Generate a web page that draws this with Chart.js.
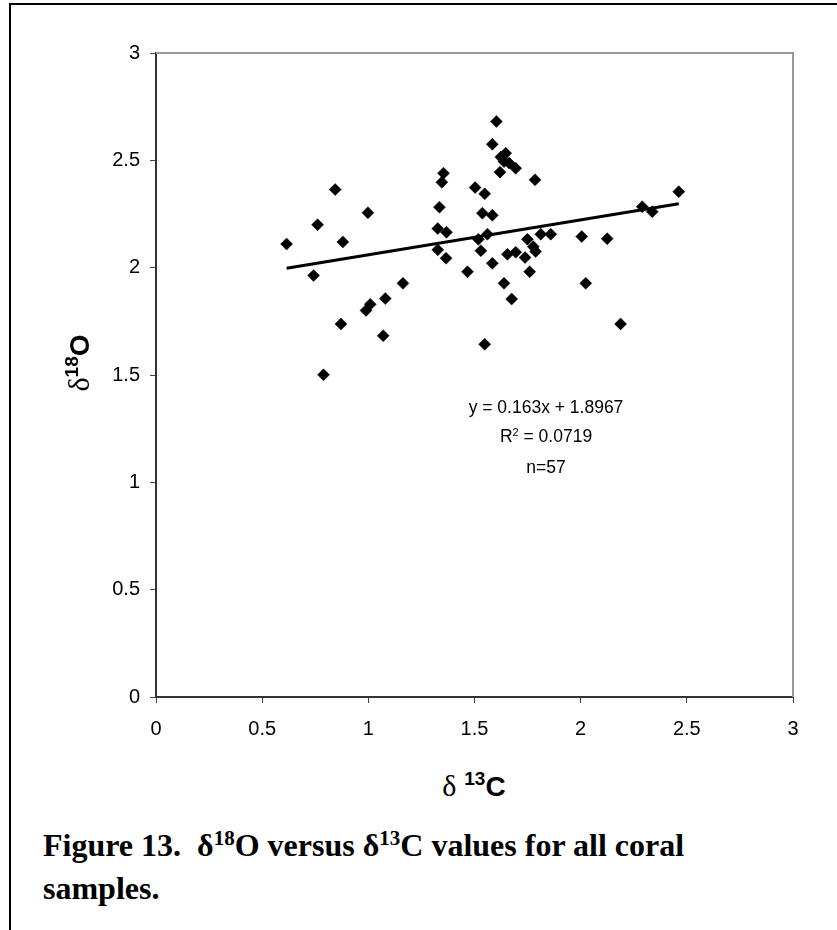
<!DOCTYPE html>
<html>
<head>
<meta charset="utf-8">
<script src="https://cdn.jsdelivr.net/npm/chart.js@4.4.1/dist/chart.umd.min.js"></script>
<style>
  html, body { margin: 0; padding: 0; background: #fff; }
  body { width: 837px; height: 930px; position: relative; overflow: hidden; font-family: "Liberation Sans", Arial, sans-serif; color: #000; }
  #frameTop { position: absolute; left: 9px; top: 3px; width: 828px; height: 2px; background: #000; }
  #frameLeft { position: absolute; left: 9px; top: 3px; width: 2px; height: 927px; background: #000; }
  #wrap { position: absolute; left: 0; top: 0; width: 837px; height: 760px; }
  .axtitle { position: absolute; font-weight: bold; font-size: 28px; line-height: 40px; white-space: nowrap; text-align: center; }
  .axtitle .delta { font-family: "Liberation Serif", serif; font-weight: normal; font-size: 30px; }
  .axtitle sup { font-size: 19px; vertical-align: baseline; position: relative; top: -11px; }
  #xTitle { left: 274px; top: 766px; width: 400px; }
  #yTitle { left: 31px; top: 341px; width: 100px; transform: rotate(-90deg); }
  #eq { position: absolute; left: 396px; top: 393px; width: 300px; text-align: center; font-size: 17.5px; line-height: 29px; }
  #eq sup { font-size: 11px; vertical-align: baseline; position: relative; top: -6px; }
  #caption { position: absolute; left: 43px; top: 826px; font-family: "Liberation Serif", "Times New Roman", serif; font-weight: bold; font-size: 32px; line-height: 39px; white-space: nowrap; }
  #caption sup { font-size: 21px; vertical-align: baseline; position: relative; top: -11px; }
</style>
</head>
<body>
<div id="frameTop"></div>
<div id="frameLeft"></div>
<div id="wrap"><canvas id="chartIsotopos" width="837" height="760"></canvas></div>
<div class="axtitle" id="yTitle"><span class="delta">δ</span><sup>18</sup>O</div>
<div class="axtitle" id="xTitle"><span class="delta">δ</span> <sup>13</sup>C</div>
<div id="eq">y = 0.163x + 1.8967<br>R<sup>2</sup> = 0.0719<br>n=57</div>
<div id="caption">Figure 13.&nbsp; δ<sup>18</sup>O versus δ<sup>13</sup>C values for all coral<br>samples.</div>
<script>
// valores
const d13C = [0.615, 0.844, 0.761, 0.998, 0.880, 0.742, 1.163, 1.080, 1.009, 0.989, 0.871, 1.070, 0.789,
    1.354, 1.346, 1.335, 1.327, 1.368, 1.327, 1.366,
    1.603, 1.584, 1.647, 1.624, 1.639, 1.663, 1.694, 1.620, 1.785, 1.503,
    1.548, 1.537, 1.584, 1.561, 1.518, 1.530, 1.467, 1.584, 1.639, 1.675,
    1.548, 1.655, 1.694, 1.749, 1.777, 1.788, 1.738, 1.760, 1.812, 1.859,
    2.005, 2.024, 2.125, 2.188, 2.290, 2.337, 2.462];
const d18O = [2.110, 2.364, 2.200, 2.256, 2.120, 1.963, 1.927, 1.856, 1.829, 1.801, 1.738, 1.683, 1.501,
    2.440, 2.398, 2.282, 2.182, 2.165, 2.083, 2.044,
    2.681, 2.575, 2.533, 2.515, 2.494, 2.487, 2.463, 2.445, 2.409, 2.373,
    2.344, 2.254, 2.244, 2.156, 2.132, 2.079, 1.981, 2.020, 1.927, 1.854,
    1.643, 2.062, 2.072, 2.132, 2.098, 2.075, 2.047, 1.981, 2.156, 2.156,
    2.145, 1.927, 2.135, 1.738, 2.284, 2.261, 2.354];

// recta de tendencia
const pendiente = 0.163;
const intercepto = 1.8967;

const axisMin = 0;
const axisMax = 3;
const axisStep = 0.5;

document.addEventListener('DOMContentLoaded', () => {
    cargarGrafico();
});

function cargarGrafico() {
    const xMin = Math.min(...d13C);
    const xMax = Math.max(...d13C);

    // marco gris arriba y a la derecha del area
    const marcoGris = {
        id: 'marcoGris',
        beforeDatasetsDraw(chart) {
            const { ctx, chartArea: a } = chart;
            ctx.save();
            ctx.strokeStyle = '#999';
            ctx.lineWidth = 2;
            ctx.beginPath();
            ctx.moveTo(a.left, a.top);
            ctx.lineTo(a.right, a.top);
            ctx.lineTo(a.right, a.bottom);
            ctx.stroke();
            ctx.restore();
        }
    };

    const tickFont = { family: '"Liberation Sans", Arial, sans-serif', size: 20 };
    const etiqueta = v => String(v);

    new Chart(document.getElementById('chartIsotopos'), {
        type: 'scatter',
        data: {
            datasets: [
                {
                    label: 'Muestras',
                    data: d13C.map((x, i) => ({ x: x, y: d18O[i] })),
                    pointStyle: 'rectRot',
                    pointRadius: 6,
                    backgroundColor: '#000',
                    borderColor: '#000',
                    borderWidth: 0.5
                },
                {
                    label: 'Tendencia',
                    type: 'line',
                    data: [
                        { x: xMin, y: pendiente * xMin + intercepto },
                        { x: xMax, y: pendiente * xMax + intercepto }
                    ],
                    borderColor: '#000',
                    borderWidth: 3,
                    pointRadius: 0,
                    fill: false
                }
            ]
        },
        options: {
            responsive: false,
            animation: false,
            layout: { padding: { left: 0, right: 44, top: 53, bottom: 0 } },
            plugins: {
                legend: { display: false },
                tooltip: { enabled: false }
            },
            scales: {
                x: {
                    type: 'linear',
                    min: axisMin,
                    max: axisMax,
                    afterFit: s => { s.height = 63; },
                    ticks: { stepSize: axisStep, font: tickFont, color: '#000', padding: 14, maxRotation: 0, callback: etiqueta },
                    grid: { display: true, drawOnChartArea: false, drawTicks: true, tickLength: 6, color: '#444', lineWidth: 1 },
                    border: { color: '#333', width: 2 }
                },
                y: {
                    type: 'linear',
                    min: axisMin,
                    max: axisMax,
                    afterFit: s => { s.width = 156; },
                    ticks: { stepSize: axisStep, font: tickFont, color: '#000', padding: 10, callback: etiqueta },
                    grid: { display: true, drawOnChartArea: false, drawTicks: true, tickLength: 6, color: '#444', lineWidth: 1 },
                    border: { color: '#333', width: 2 }
                }
            }
        },
        plugins: [marcoGris]
    });
}
</script>
</body>
</html>
